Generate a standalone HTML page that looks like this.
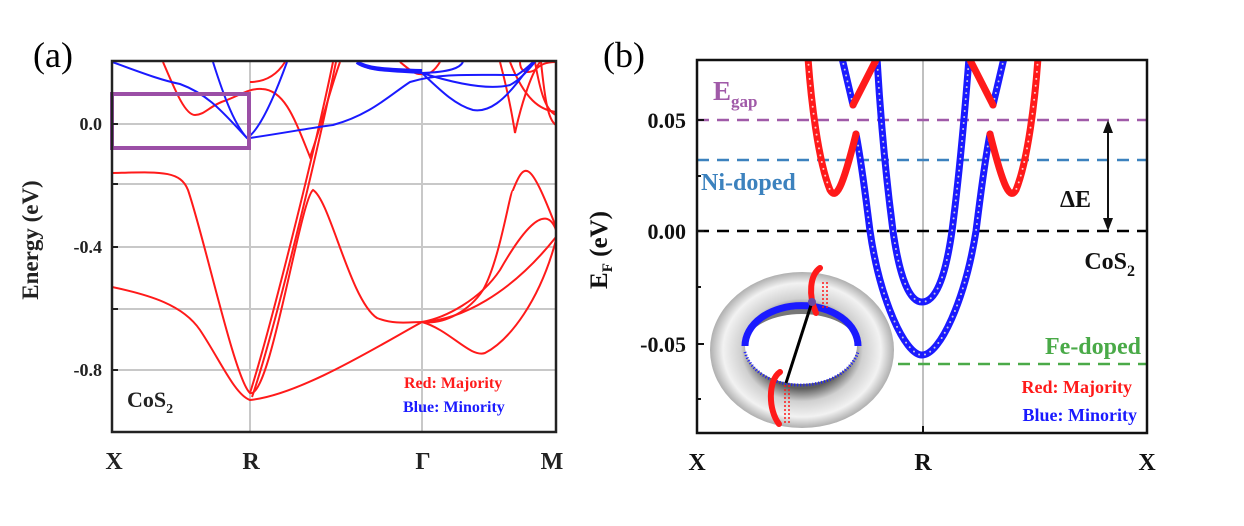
<!DOCTYPE html>
<html><head><meta charset="utf-8"><style>
html,body{margin:0;padding:0;background:#fff;}
svg{display:block;}
text{font-family:"Liberation Serif",serif;font-weight:bold;}
</style></head><body>
<svg width="1244" height="526" viewBox="0 0 1244 526" xmlns="http://www.w3.org/2000/svg">
<defs>
<radialGradient id="tg" cx="0.5" cy="0.5" r="0.55">
<stop offset="0.45" stop-color="#5e5e5e"/>
<stop offset="0.6" stop-color="#d0d0d0"/>
<stop offset="0.78" stop-color="#f2f2f2"/>
<stop offset="1" stop-color="#808080"/>
</radialGradient>
<clipPath id="ca"><rect x="112" y="61" width="444" height="371"/></clipPath>
<clipPath id="cb"><rect x="697" y="60" width="450" height="373"/></clipPath>
</defs>

<!-- Panel (a) -->
<text x="33" y="67" font-size="36" style="font-weight:normal">(a)</text>
<g stroke="#c8c8c8" stroke-width="2">
<line x1="112" y1="124" x2="556" y2="124"/>
<line x1="112" y1="184" x2="556" y2="184"/>
<line x1="112" y1="247" x2="556" y2="247"/>
<line x1="112" y1="309" x2="556" y2="309"/>
<line x1="112" y1="370" x2="556" y2="370"/>
<line x1="250" y1="61" x2="250" y2="432"/>
<line x1="422" y1="61" x2="422" y2="432"/>
</g>
<g clip-path="url(#ca)" fill="none" stroke-width="2">
<g stroke="#ff1a1a">
<path d="M112,173 C160,172 180,170 188,190 C205,240 235,380 250,393 C270,400 300,200 313,190 C330,200 350,300 377,318 C395,325 410,322 422,322"/>
<path d="M112,287 C150,295 183,305 200,330 C220,360 235,395 250,400 C300,395 380,345 422,322"/>
<path d="M250,393 C270,330 315,150 333,62"/>
<path d="M252,397 C275,330 318,150 336,62"/>
<path d="M422,322 C450,330 470,358 485,353 C510,340 540,300 556,240"/>
<path d="M422,322 C460,320 510,295 556,237"/>
<path d="M422,322 C445,325 470,310 483,290 C500,260 510,190 513,190 C525,160 530,160 556,227"/>
<path d="M422,322 C445,318 480,300 500,270 C520,235 545,200 556,230"/>
<path d="M163,62 C175,90 185,115 195,115 C205,115 210,105 227,100 C240,95 250,88 262,89 C285,90 295,120 310,157 C320,130 330,90 340,62"/>
<path d="M250,82 C270,82 280,70 285,62"/>
<path d="M500,62 C510,100 513,120 515,133 C520,110 530,75 540,62"/>
<path d="M510,62 C525,100 540,110 556,112"/>
<path d="M535,62 C540,90 545,110 556,115"/>
<path d="M520,62 C520,70 525,75 535,70 C540,65 545,62 556,62"/>
<path d="M541,62 C545,100 548,120 556,125"/>
<path d="M400,62 C410,70 415,75 422,74 C430,75 435,70 440,62"/>
</g>
<g stroke="#1a1aff">
<path d="M112,62 C140,72 160,80 180,84 C210,95 225,115 247,138"/>
<path d="M213,62 C225,100 235,125 247,138 C260,130 275,95 287,62"/>
<path d="M250,138 C290,132 310,128 333,125 C370,115 390,95 410,82 C440,73 470,75 517,75 C525,70 530,65 533,62"/>
<path d="M357,62 C365,70 380,71 422,73 C450,72 460,68 463,62"/>
<path d="M422,73 C440,90 455,105 473,110 C490,113 505,98 517,83 C525,73 530,65 535,62"/>
<path d="M422,73 C460,85 490,90 510,85 C520,80 528,70 535,62"/>
<path d="M357,62 C365,68 380,70 422,71" stroke-width="4"/>
</g>
</g>
<rect x="112" y="94" width="137" height="54" fill="none" stroke="#9b4fa6" stroke-width="4"/>
<rect x="112" y="61" width="444" height="371" fill="none" stroke="#222" stroke-width="2.5"/>
<g stroke="#222" stroke-width="2">
<line x1="112" y1="124" x2="118" y2="124"/><line x1="112" y1="184" x2="118" y2="184"/>
<line x1="112" y1="247" x2="118" y2="247"/><line x1="112" y1="309" x2="118" y2="309"/>
<line x1="112" y1="370" x2="118" y2="370"/>
</g>
<g font-size="18" text-anchor="end" fill="#222">
<text x="102" y="130">0.0</text>
<text x="102" y="253">-0.4</text>
<text x="102" y="376">-0.8</text>
</g>
<text x="38" y="240" font-size="23" text-anchor="middle" transform="rotate(-90 38 240)" fill="#222">Energy (eV)</text>
<g font-size="24" text-anchor="middle" fill="#222">
<text x="114" y="469">X</text><text x="251" y="469">R</text><text x="423" y="469">Γ</text><text x="552" y="469">M</text>
</g>
<text x="127" y="407" font-size="22" fill="#222">CoS<tspan font-size="14" dy="6">2</tspan></text>
<text x="404" y="388" font-size="16" fill="#ff1a1a">Red: Majority</text>
<text x="403" y="412" font-size="16" fill="#1a1aff">Blue: Minority</text>

<!-- Panel (b) -->
<text x="603" y="67" font-size="36" style="font-weight:normal">(b)</text>
<line x1="923" y1="60" x2="923" y2="433" stroke="#c0c0c0" stroke-width="2"/>
<line x1="697" y1="120" x2="1147" y2="120" stroke="#a05aa8" stroke-width="2.5" stroke-dasharray="12,8"/>
<line x1="697" y1="160" x2="1147" y2="160" stroke="#3c82be" stroke-width="2.5" stroke-dasharray="12,8"/>
<line x1="697" y1="231" x2="1147" y2="231" stroke="#000" stroke-width="2.5" stroke-dasharray="12,8"/>
<line x1="898" y1="364" x2="1147" y2="364" stroke="#4aaa48" stroke-width="2.5" stroke-dasharray="12,8"/>

<g clip-path="url(#cb)" fill="none" stroke-linecap="round">
<g stroke="#1a1aff" stroke-width="7">
<path d="M842,58 L853,105"/><path d="M1004,58 L993,105"/>
<path d="M856,134 C862,165 866,200 870,231 C880,300 905,355 922,355 C940,355 965,300 976,231 C980,200 984,165 990,134"/>
<path d="M877,58 C880,110 885,170 893,231 C900,280 910,302 922,302 C935,302 945,280 952,231 C960,170 965,110 969,58"/>
</g>
<g stroke="#ccd" stroke-width="2" stroke-dasharray="0,6">
<path d="M842,58 L853,105"/><path d="M1004,58 L993,105"/>
<path d="M856,134 C862,165 866,200 870,231 C880,300 905,355 922,355 C940,355 965,300 976,231 C980,200 984,165 990,134"/>
<path d="M877,58 C880,110 885,170 893,231 C900,280 910,302 922,302 C935,302 945,280 952,231 C960,170 965,110 969,58"/>
</g>
<g stroke="#ff1a1a" stroke-width="7">
<path d="M808,58 C811,100 818,160 830,190 C836,200 842,190 856,134"/>
<path d="M853,105 L877,58"/>
<path d="M1038,58 C1035,100 1028,160 1016,190 C1010,200 1004,190 990,134"/>
<path d="M993,105 L969,58"/>
</g>
<g stroke="#fcc" stroke-width="2" stroke-dasharray="0,7">
<path d="M808,58 C811,100 818,160 830,190"/>
<path d="M1038,58 C1035,100 1028,160 1016,190"/>
</g>
</g>

<!-- torus -->
<ellipse cx="802" cy="350" rx="92" ry="78" fill="url(#tg)"/>
<ellipse cx="801" cy="346" rx="56" ry="38" fill="#fff"/>
<path d="M747,340 A55,36 0 0 1 856,340 A55,30 0 0 0 747,340 Z" fill="#777"/>
<path d="M745,346 A56,40 0 0 1 858,346" fill="none" stroke="#1a1aff" stroke-width="7"/>
<path d="M745,352 C750,370 770,385 801,385 C830,385 852,370 858,352" fill="none" stroke="#1a1aff" stroke-width="3" stroke-dasharray="1,2"/>
<path d="M820,268 C810,275 808,295 816,313" fill="none" stroke="#ff1a1a" stroke-width="6" stroke-linecap="round"/>
<path d="M823,282 L823,310 M827,282 L827,310" stroke="#ff1a1a" stroke-width="1.5" stroke-dasharray="2,2"/>
<path d="M780,372 C768,380 768,410 779,424" fill="none" stroke="#ff1a1a" stroke-width="6" stroke-linecap="round"/>
<path d="M785,385 L785,425 M789,385 L789,425" stroke="#ff1a1a" stroke-width="1.5" stroke-dasharray="2,2"/>
<line x1="812" y1="302" x2="786" y2="383" stroke="#000" stroke-width="3"/>
<circle cx="812" cy="302" r="4" fill="#6a4aa0"/>

<rect x="697" y="60" width="450" height="373" fill="none" stroke="#111" stroke-width="2.5"/>
<g stroke="#111" stroke-width="2">
<line x1="697" y1="120" x2="704" y2="120"/><line x1="697" y1="176" x2="701" y2="176"/>
<line x1="697" y1="231" x2="704" y2="231"/><line x1="697" y1="287" x2="701" y2="287"/>
<line x1="697" y1="344" x2="704" y2="344"/><line x1="697" y1="399" x2="701" y2="399"/>
<line x1="923" y1="433" x2="923" y2="426"/>
</g>
<g font-size="22" text-anchor="end" fill="#111">
<text x="686" y="128">0.05</text><text x="686" y="239">0.00</text><text x="686" y="352">-0.05</text>
</g>
<text x="607" y="250" font-size="25" text-anchor="middle" transform="rotate(-90 607 250)" fill="#111">E<tspan font-size="15" dy="5">F</tspan><tspan dy="-5"> (eV)</tspan></text>
<g font-size="24" text-anchor="middle" fill="#111">
<text x="697" y="470">X</text><text x="923" y="470">R</text><text x="1147" y="470">X</text>
</g>
<text x="713" y="100" font-size="27" fill="#a05aa8">E<tspan font-size="17" dy="7">gap</tspan></text>
<text x="701" y="190" font-size="24" fill="#3c82be">Ni-doped</text>
<text x="1141" y="354" font-size="24" text-anchor="end" fill="#4aaa48">Fe-doped</text>
<text x="1135" y="269" font-size="24" text-anchor="end" fill="#111">CoS<tspan font-size="16" dy="7">2</tspan></text>
<text x="1060" y="207" font-size="24" fill="#111">ΔE</text>
<line x1="1108" y1="128" x2="1108" y2="223" stroke="#111" stroke-width="2"/>
<path d="M1108,120 L1103,133 L1113,133 Z M1108,231 L1103,218 L1113,218 Z" fill="#111"/>
<text x="1132" y="393" font-size="18" text-anchor="end" fill="#ff1a1a">Red: Majority</text>
<text x="1137" y="421" font-size="18" text-anchor="end" fill="#1a1aff">Blue: Minority</text>
</svg>
</body></html>
